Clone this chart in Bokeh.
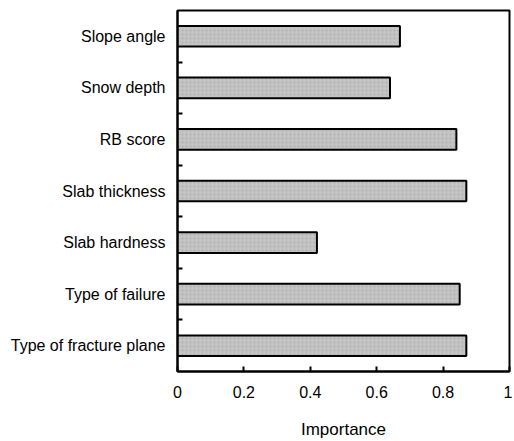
from bokeh.plotting import figure
from bokeh.models import Range1d, FixedTicker, ColumnDataSource
from bokeh.embed import file_html
from bokeh.resources import INLINE

categories = ["Slope angle", "Snow depth", "RB score", "Slab thickness",
              "Slab hardness", "Type of failure", "Type of fracture plane"]
importance = [0.67, 0.64, 0.84, 0.87, 0.42, 0.85, 0.87]
x_ticks = [0, 0.2, 0.4, 0.6, 0.8, 1.0]
x_tick_labels = ["0", "0.2", "0.4", "0.6", "0.8", "1"]

n = len(categories)
ypos = [n - i - 0.5 for i in range(n)]

src = ColumnDataSource(dict(y=ypos, v=importance, cat=categories))

p = figure(width=512, height=441, output_backend="svg", toolbar_location=None,
           x_range=Range1d(0, 1.0), y_range=Range1d(0, n),
           min_border_left=177, min_border_right=3, min_border_top=10, min_border_bottom=0)

p.hbar(y="y", left=0, right="v", height=0.4, source=src,
       fill_color="#c4c4c4", line_color="black", line_width=2,
       hatch_pattern="dot", hatch_color="#999999", hatch_scale=4, hatch_alpha=0.5)

p.xgrid.visible = False
p.ygrid.visible = False
p.background_fill_color = "white"
p.border_fill_color = "white"
p.outline_line_color = "black"
p.outline_line_width = 2
p.outline_line_alpha = 1

font = "Liberation Sans"

xa = p.xaxis[0]
xa.ticker = FixedTicker(ticks=x_ticks)
xa.major_label_overrides = {t: l for t, l in zip(x_ticks, x_tick_labels)}
xa.major_tick_in = 5
xa.major_tick_out = 0
xa.minor_tick_in = 0
xa.minor_tick_out = 0
xa.major_tick_line_width = 2
xa.axis_line_width = 2
xa.major_label_standoff = 14
xa.major_label_text_font = font
xa.major_label_text_font_size = "16px"
xa.major_label_text_color = "black"
xa.axis_label = "Importance"
xa.axis_label_text_font = font
xa.axis_label_text_font_size = "17px"
xa.axis_label_text_font_style = "normal"
xa.axis_label_text_color = "black"
xa.axis_label_standoff = 19

ya = p.yaxis[0]
ya.ticker = FixedTicker(ticks=ypos, minor_ticks=list(range(1, n)))
ya.major_label_overrides = {y: c for y, c in zip(ypos, categories)}
ya.major_tick_in = 0
ya.major_tick_out = 0
ya.minor_tick_in = 5
ya.minor_tick_out = 0
ya.minor_tick_line_width = 2
ya.minor_tick_line_color = "black"
ya.axis_line_width = 2
ya.major_label_standoff = 12
ya.major_label_text_font = font
ya.major_label_text_font_size = "16px"
ya.major_label_text_color = "black"

open("out.html", "w").write(file_html(p, INLINE))
